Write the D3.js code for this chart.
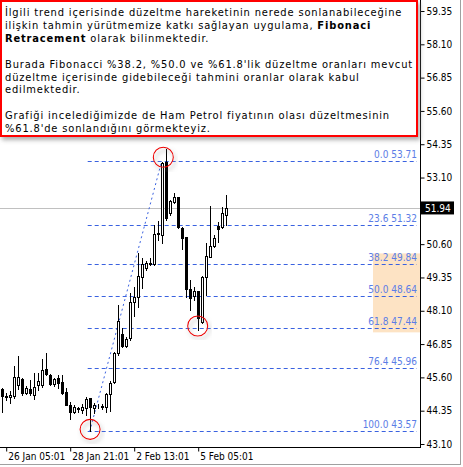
<!DOCTYPE html>
<meta charset="utf-8">
<head>
  <title>Fibonacci Retracement - Ham Petrol</title>
</head>
<style>
body {
  margin: 0;
  background: white;
}
svg {
  display: block;
}
.note text {
  font-family: "DejaVu Sans Condensed", "DejaVu Sans", sans-serif;
  fill: #000;
}
.axis text {
  font-family: "DejaVu Sans Condensed", "DejaVu Sans", sans-serif;
  font-size: 10px;
  fill: #000;
}
.fib-label {
  font-family: "DejaVu Sans Condensed", "DejaVu Sans", sans-serif;
  font-size: 10px;
  fill: #5b7de6;
  text-anchor: end;
}
</style>
<body>
<div id="chart"></div>
<script src="https://cdnjs.cloudflare.com/ajax/libs/d3/7.8.5/d3.min.js"></script>
<script>
// 4H candles
var opens  = [45.17,44.90,44.87,44.90,45.32,45.54,45.02,45.17,44.94,45.32,45.32,45.92,45.69,45.35,45.58,45.43,45.05,44.56,44.30,44.41,44.38,44.45,44.83,44.45,44.49,44.49,44.49,44.98,45.43,46.52,47.23,46.78,47.08,48.43,48.62,49.37,49.70,49.89,49.85,50.98,50.94,53.68,51.77,52.18,52.37,51.21,50.87,48.92,48.65,48.84,47.68,49.37,50.12,50.53,51.28,51.24,51.69];
var highs  = [45.20,45.02,45.09,46.03,46.40,45.58,45.28,45.50,45.77,45.77,46.29,46.52,45.73,45.58,45.69,45.69,45.20,44.68,44.56,44.49,44.60,44.87,44.83,44.64,44.60,44.60,45.02,45.47,46.55,48.32,47.45,47.12,48.77,48.99,50.27,50.08,49.97,50.08,51.32,51.47,53.68,54.17,52.26,52.52,52.37,51.24,50.87,49.25,48.99,48.84,49.40,50.64,52.03,50.94,51.43,51.99,52.44];
var lows   = [44.30,44.75,44.64,44.83,45.17,44.94,44.98,44.94,44.79,45.13,45.24,45.69,45.32,45.28,45.20,44.98,44.56,44.04,44.26,44.30,44.26,44.19,43.57,44.26,44.45,44.41,44.30,44.34,45.39,46.44,46.74,46.74,47.00,47.90,48.24,48.95,49.63,49.82,49.82,50.76,50.64,51.51,51.69,52.14,51.21,50.42,48.62,48.13,48.50,47.38,47.64,48.69,50.12,50.49,50.68,51.21,51.32];
var closes = [44.90,44.87,44.94,45.62,45.62,45.02,45.20,45.02,45.24,45.47,45.88,45.73,45.35,45.54,45.39,45.02,44.56,44.30,44.49,44.45,44.49,44.79,44.49,44.56,44.49,44.53,44.98,45.39,46.52,47.72,46.78,47.04,48.43,48.62,49.40,49.85,49.89,49.85,50.98,51.02,53.64,51.58,52.22,52.37,51.24,50.83,48.92,48.58,48.84,47.83,49.37,50.15,50.53,50.83,51.17,51.77,51.94];

var timeLabels = ["26 Jan 05:01", "28 Jan 21:01", "2 Feb 13:01", "5 Feb 05:01"];
var timeBars = [1, 17, 33, 49];

var priceTicks = [59.35, 58.10, 56.85, 55.60, 54.35, 53.10, 50.60, 49.35, 48.10, 46.85, 45.60, 44.35, 43.10];
var lastPrice = 51.94;

var fibRatios = ["0.0", "23.6", "38.2", "50.0", "61.8", "76.4", "100.0"];
var fibPrices = [53.71, 51.32, 49.84, 48.64, 47.44, 45.96, 43.57];
var fibFromBar = 22, fibToBar = 40;
var zoneRatios = ["38.2", "61.8"];

// circled turning points: bar index and price
var markBars = [40.4, 22.1, 49];
var markPrices = [53.86, 43.65, 47.53];

var noteLines = [
  "İlgili trend içerisinde düzeltme hareketinin nerede sonlanabileceğine",
  "ilişkin tahmin yürütmemize katkı sağlayan uygulama, Fibonaci",
  "Retracement olarak bilinmektedir.",
  "",
  "Burada Fibonacci %38.2, %50.0 ve %61.8'lik düzeltme oranları mevcut",
  "düzeltme içerisinde gidebileceği tahmini oranlar olarak kabul",
  "edilmektedir.",
  "",
  "Grafiği incelediğimizde de Ham Petrol fiyatının olası düzeltmesinin",
  "%61.8'de sonlandığını görmekteyiz."
];
var boldWords = ["Fibonaci", "Retracement"];

var width = 463, height = 467;
var plotRight = 420, plotBottom = 447;

var svg = d3.select("#chart").append("svg")
  .attr("width", width)
  .attr("height", height);

var defs = svg.append("defs");
defs.append("filter").attr("id", "shadow")
  .attr("x", "-20%").attr("y", "-20%").attr("width", "140%").attr("height", "140%")
  .append("feDropShadow")
  .attr("dx", 2).attr("dy", 3).attr("stdDeviation", 2)
  .attr("flood-color", "#777").attr("flood-opacity", 0.6);

var x = d3.scaleLinear().domain([0, 105]).range([1.7, 421.7]);
var y = d3.scaleLinear().domain([43.10, 59.35]).range([444, 11]);
function px(v) { return Math.round(v) + 0.5; }

// window frame
svg.append("line").attr("x1", 460.5).attr("x2", 460.5).attr("y1", 0).attr("y2", 465)
  .attr("stroke", "#a0a0a0");
svg.append("line").attr("x1", 0).attr("x2", 461).attr("y1", 464.5).attr("y2", 464.5)
  .attr("stroke", "#a0a0a0");

// retracement zone
var zoneTop = y(fibPrices[fibRatios.indexOf(zoneRatios[0])]) - 11;
var zoneBot = y(fibPrices[fibRatios.indexOf(zoneRatios[1])]) + 4;
svg.append("rect")
  .attr("x", 373).attr("y", zoneTop)
  .attr("width", plotRight - 373).attr("height", zoneBot - zoneTop)
  .attr("fill", "#fde3c4");

// current price line
svg.append("line")
  .attr("x1", 0).attr("x2", plotRight)
  .attr("y1", px(y(lastPrice))).attr("y2", px(y(lastPrice)))
  .attr("stroke", "#c0c0c0");

// fib levels
var fib = svg.append("g");
fibPrices.forEach(function(p, i) {
  fib.append("line")
    .attr("x1", x(fibFromBar) - 2).attr("x2", 417)
    .attr("y1", px(y(p))).attr("y2", px(y(p)))
    .attr("stroke", "#3a62e0")
    .attr("stroke-dasharray", "4,3");
  fib.append("text")
    .attr("class", "fib-label")
    .attr("x", 417).attr("y", y(p) - 3)
    .text(fibRatios[i] + " " + p.toFixed(2));
});
fib.append("line")
  .attr("x1", x(fibFromBar)).attr("y1", y(fibPrices[fibPrices.length - 1]))
  .attr("x2", x(fibToBar)).attr("y2", y(fibPrices[0]))
  .attr("stroke", "#3a62e0")
  .attr("stroke-dasharray", "2,3");

// candles
var candles = svg.append("g").selectAll("g")
  .data(opens.map(function(o, i) {
    return {i: i, o: o, h: highs[i], l: lows[i], c: closes[i]};
  }))
  .enter().append("g");

candles.append("line")
  .attr("x1", function(d) { return px(x(d.i)); })
  .attr("x2", function(d) { return px(x(d.i)); })
  .attr("y1", function(d) { return Math.round(y(d.h)); })
  .attr("y2", function(d) { return Math.round(y(d.l)) + 1; })
  .attr("stroke", "#000");

candles.append("rect")
  .attr("x", function(d) { return Math.round(x(d.i)) - 1 + 0.5; })
  .attr("y", function(d) { return Math.round(y(Math.max(d.o, d.c))) + 0.5; })
  .attr("width", 2)
  .attr("height", function(d) { return Math.max(0, Math.round(y(Math.min(d.o, d.c))) - Math.round(y(Math.max(d.o, d.c)))); })
  .attr("fill", function(d) { return d.c >= d.o ? "#fff" : "#000"; })
  .attr("stroke", "#000");

// red circles
svg.append("g").selectAll("circle")
  .data(markBars)
  .enter().append("circle")
  .attr("cx", function(d) { return x(d); })
  .attr("cy", function(d, i) { return y(markPrices[i]); })
  .attr("r", 10)
  .attr("fill", "none")
  .attr("stroke", "#ee0000")
  .attr("stroke-width", 1.1)
  .attr("filter", "url(#shadow)");

// axes
var yAxis = d3.axisRight(y).tickValues(priceTicks).tickSize(4).tickSizeOuter(0)
  .tickFormat(d3.format(".2f"));
var gy = svg.append("g").attr("class", "axis")
  .attr("transform", "translate(" + (plotRight + 0.5) + ",0)")
  .call(yAxis);
gy.select(".domain").remove();
gy.selectAll(".tick text").attr("x", 6);

svg.append("line")
  .attr("x1", plotRight + 0.5).attr("x2", plotRight + 0.5)
  .attr("y1", 0).attr("y2", plotBottom)
  .attr("stroke", "#000");
svg.append("line")
  .attr("x1", 0).attr("x2", plotRight + 1)
  .attr("y1", plotBottom + 0.5).attr("y2", plotBottom + 0.5)
  .attr("stroke", "#000");

var xAxis = d3.axisBottom(x)
  .tickValues(timeBars)
  .tickFormat(function(d, i) { return timeLabels[i]; })
  .tickSize(4).tickSizeOuter(0);
var gx = svg.append("g").attr("class", "axis")
  .attr("transform", "translate(0," + (plotBottom + 0.5) + ")")
  .call(xAxis);
gx.select(".domain").remove();
gx.selectAll(".tick line").attr("transform", "translate(0.5,0)");
gx.selectAll(".tick text")
  .attr("text-anchor", "start")
  .attr("x", 2).attr("y", 5);

// current price tag
var tag = svg.append("g").attr("transform", "translate(421," + y(lastPrice) + ")");
tag.append("rect").attr("x", 0).attr("y", -7).attr("width", 33).attr("height", 13).attr("fill", "#000");
tag.append("text")
  .attr("x", 4).attr("y", 4)
  .attr("fill", "#fff")
  .style("font-family", "'DejaVu Sans Condensed', 'DejaVu Sans', sans-serif")
  .style("font-size", "10px")
  .text(lastPrice.toFixed(2));

// note box
var note = svg.append("g").attr("class", "note");
note.append("rect")
  .attr("x", 1).attr("y", 1)
  .attr("width", 416).attr("height", 135)
  .attr("fill", "#fff")
  .attr("stroke", "#ff0000")
  .attr("stroke-width", 2)
  .attr("filter", "url(#shadow)");

var boldRe = new RegExp("(" + boldWords.join("|") + ")");
var lineNodes = [];
noteLines.forEach(function(line, i) {
  if (!line) return;
  var t = note.append("text")
    .attr("x", 5).attr("y", 16 + 12.9 * i)
    .style("font-size", "11px");
  line.split(boldRe).forEach(function(part) {
    if (!part) return;
    t.append("tspan")
      .style("font-weight", boldWords.indexOf(part) >= 0 ? "bold" : "normal")
      .text(part);
  });
  lineNodes.push({node: t, len: line.length});
});
// spread letters so the widest line reaches the box edge
var widest = null;
lineNodes.forEach(function(l) {
  var w = l.node.node().getComputedTextLength();
  if (!widest || w > widest.w) widest = {w: w, len: l.len};
});
var spacing = Math.max(0, (408 - widest.w) / widest.len);
note.selectAll("text").style("letter-spacing", spacing.toFixed(3) + "px");
</script>
</body>
</html>
